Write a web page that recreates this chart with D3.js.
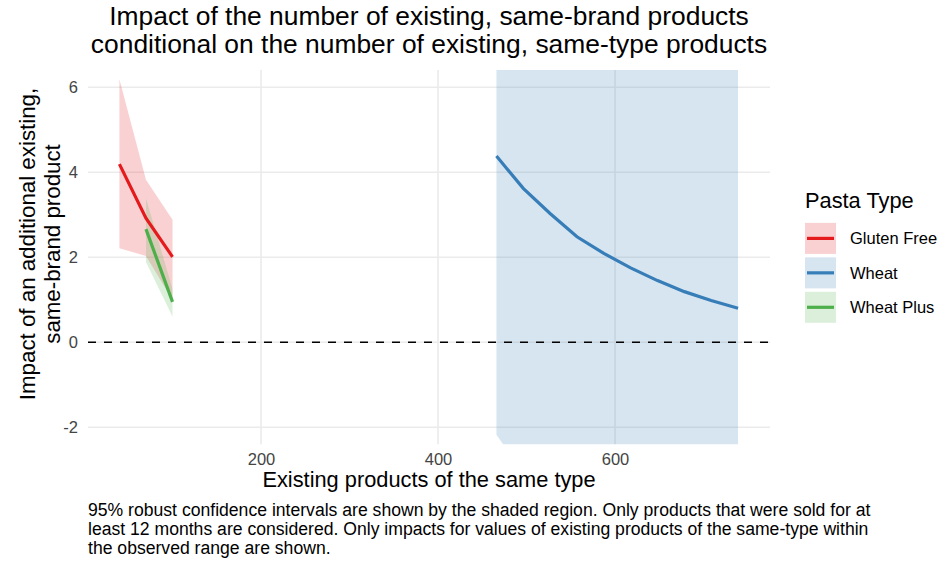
<!DOCTYPE html>
<html>
<head>
<meta charset="utf-8">
<script src="https://cdn.jsdelivr.net/npm/d3@7"></script>
<style>
    body { margin: 0; background: #fff; }
    text { font-family: "Liberation Sans", Arial, sans-serif; }
</style>
</head>
<body>
<div id="vis"></div>
<script>
'use strict';

// Data
const glutenX = [40, 70, 100];
const glutenFit = [4.19, 2.92, 2.01];
const glutenHigh = [6.19, 3.82, 2.88];
const glutenLow = [2.21, 2.03, 1.0];

const wheatX = [466, 496.3, 526.6, 557, 587.3, 617.6, 648, 678.3, 708.6, 739];
const wheatFit = [4.38, 3.62, 3.03, 2.48, 2.09, 1.75, 1.45, 1.19, 0.98, 0.80];
const wheatHigh = [11.5, 10.4, 9.6, 9.0, 8.6, 8.3, 8.1, 8.0, 7.9, 7.9];
const wheatLow = [-2.18, -3.07, -3.9, -4.5, -4.9, -5.3, -5.6, -5.8, -6.0, -6.2];

const wheatPlusX = [70, 100];
const wheatPlusFit = [2.66, 0.95];
const wheatPlusHigh = [3.39, 1.25];
const wheatPlusLow = [1.89, 0.60];

const xTicks = [200, 400, 600];
const yTicks = [-2, 0, 2, 4, 6];

const pastaTypes = ["Gluten Free", "Wheat", "Wheat Plus"];
const colors = {
    "Gluten Free": "#E41A1C",
    "Wheat": "#377EB8",
    "Wheat Plus": "#4DAF4A"
};

const titleLines = [
    "Impact of the number of existing, same-brand products",
    "conditional on the number of existing, same-type products"
];
const yTitleLines = ["Impact of an additional existing,", "same-brand product"];
const xTitle = "Existing products of the same type";
const captionLines = [
    "95% robust confidence intervals are shown by the shaded region. Only products that were sold for at",
    "least 12 months are considered. Only impacts for values of existing products of the same-type within",
    "the observed range are shown."
];

const constraints = {
    width: 945,
    height: 565,
    panel: {left: 88, top: 70, right: 770, bottom: 444.3}
};

let scaleFunc = { x: null, y: null };
let svg, panel;

function buildSeries() {
    return [
        {name: "Gluten Free", x: glutenX, fit: glutenFit, hi: glutenHigh, lo: glutenLow},
        {name: "Wheat", x: wheatX, fit: wheatFit, hi: wheatHigh, lo: wheatLow},
        {name: "Wheat Plus", x: wheatPlusX, fit: wheatPlusFit, hi: wheatPlusHigh, lo: wheatPlusLow}
    ].map((s) => {
        s.points = s.x.map((v, i) => ({x: v, fit: s.fit[i], hi: s.hi[i], lo: s.lo[i]}));
        return s;
    });
}

generateSVG();
calculateScaling();
generateGrid();
const series = buildSeries();
plotRibbons(series);
plotZeroLine();
plotLines(series);
generateAxis();
generateLabels();
generateLegend();

function generateSVG() {
    svg = d3.select("#vis").append("svg")
        .attr("width", constraints.width)
        .attr("height", constraints.height);
    const p = constraints.panel;
    svg.append("clipPath").attr("id", "panelClip")
        .append("rect")
        .attr("x", p.left).attr("y", p.top)
        .attr("width", p.right - p.left).attr("height", p.bottom - p.top);
    panel = svg.append("g");
}

function calculateScaling() {
    const p = constraints.panel;
    scaleFunc.x = d3.scaleLinear().domain([4.5, 775.1]).range([p.left, p.right]);
    scaleFunc.y = d3.scaleLinear().domain([-2.402, 6.405]).range([p.bottom, p.top]);
}

function generateGrid() {
    const p = constraints.panel;
    panel.append("g").selectAll("line")
        .data(yTicks).enter().append("line")
        .attr("x1", p.left).attr("x2", p.right)
        .attr("y1", (d) => scaleFunc.y(d)).attr("y2", (d) => scaleFunc.y(d))
        .attr("stroke", "#EBEBEB").attr("stroke-width", 1.6);
    panel.append("g").selectAll("line")
        .data(xTicks).enter().append("line")
        .attr("y1", p.top).attr("y2", p.bottom)
        .attr("x1", (d) => scaleFunc.x(d)).attr("x2", (d) => scaleFunc.x(d))
        .attr("stroke", "#EBEBEB").attr("stroke-width", 1.6);
}

function plotRibbons(data) {
    const area = d3.area()
        .x((d) => scaleFunc.x(d.x))
        .y0((d) => scaleFunc.y(d.lo))
        .y1((d) => scaleFunc.y(d.hi));
    panel.append("g")
        .attr("clip-path", "url(#panelClip)")
        .selectAll("path")
        .data(data).enter().append("path")
        .attr("d", (d) => area(d.points))
        .attr("fill", (d) => colors[d.name])
        .attr("fill-opacity", 0.2);
}

function plotZeroLine() {
    const p = constraints.panel;
    panel.append("line")
        .attr("x1", p.left).attr("x2", p.right)
        .attr("y1", scaleFunc.y(0)).attr("y2", scaleFunc.y(0))
        .attr("stroke", "#000").attr("stroke-width", 1.6)
        .attr("stroke-dasharray", "8,8");
}

function plotLines(data) {
    const line = d3.line()
        .x((d) => scaleFunc.x(d.x))
        .y((d) => scaleFunc.y(d.fit));
    panel.append("g")
        .attr("clip-path", "url(#panelClip)")
        .selectAll("path")
        .data(data).enter().append("path")
        .attr("d", (d) => line(d.points))
        .attr("fill", "none")
        .attr("stroke", (d) => colors[d.name])
        .attr("stroke-width", 3.2);
}

function generateAxis() {
    const p = constraints.panel;
    const xAxis = svg.append("g")
        .attr("transform", "translate(0," + p.bottom + ")")
        .call(d3.axisBottom(scaleFunc.x).tickValues(xTicks).tickSize(0).tickPadding(9)
            .tickFormat((d) => String(d)));
    const yAxis = svg.append("g")
        .attr("transform", "translate(" + p.left + ",0)")
        .call(d3.axisLeft(scaleFunc.y).tickValues(yTicks).tickSize(0).tickPadding(10)
            .tickFormat((d) => String(d)));
    [xAxis, yAxis].forEach((a) => {
        a.select(".domain").remove();
        a.selectAll("text")
            .style("font-size", "16.5px")
            .style("font-family", "'Liberation Sans', Arial, sans-serif")
            .attr("fill", "#444");
    });
}

function generateLabels() {
    const p = constraints.panel;
    const cx = (p.left + p.right) / 2;
    svg.append("g").selectAll("text")
        .data(titleLines).enter().append("text")
        .attr("x", cx)
        .attr("y", (d, i) => 25 + i * 28.3)
        .attr("text-anchor", "middle")
        .style("font-size", "26.4px")
        .text((d) => d);

    svg.append("text")
        .attr("x", cx).attr("y", 487)
        .attr("text-anchor", "middle")
        .style("font-size", "21.8px")
        .text(xTitle);

    const cy = 244;
    svg.append("g").selectAll("text")
        .data(yTitleLines).enter().append("text")
        .attr("transform", (d, i) => "translate(" + (35 + i * 24.5) + "," + cy + ")rotate(-90)")
        .attr("text-anchor", "middle")
        .style("font-size", "22.3px")
        .text((d) => d);

    svg.append("g").selectAll("text")
        .data(captionLines).enter().append("text")
        .attr("x", p.left)
        .attr("y", (d, i) => 516 + i * 19)
        .style("font-size", "17.6px")
        .text((d) => d);
}

function generateLegend() {
    const legend = svg.append("g");
    legend.append("text")
        .attr("x", 805).attr("y", 208)
        .style("font-size", "21.8px")
        .text("Pasta Type");

    const keys = legend.selectAll("g.key")
        .data(pastaTypes).enter().append("g")
        .attr("class", "key")
        .attr("transform", (d, i) => "translate(805," + (238.4 + i * 34.45) + ")");
    keys.append("rect")
        .attr("x", 0).attr("y", -15.5)
        .attr("width", 31).attr("height", 31)
        .attr("fill", (d) => colors[d])
        .attr("fill-opacity", 0.2);
    keys.append("line")
        .attr("x1", 2).attr("x2", 29)
        .attr("y1", 0).attr("y2", 0)
        .attr("stroke", (d) => colors[d])
        .attr("stroke-width", 3.2);
    keys.append("text")
        .attr("x", 45).attr("y", 6)
        .style("font-size", "16.5px")
        .text((d) => d);
}
</script>
</body>
</html>
